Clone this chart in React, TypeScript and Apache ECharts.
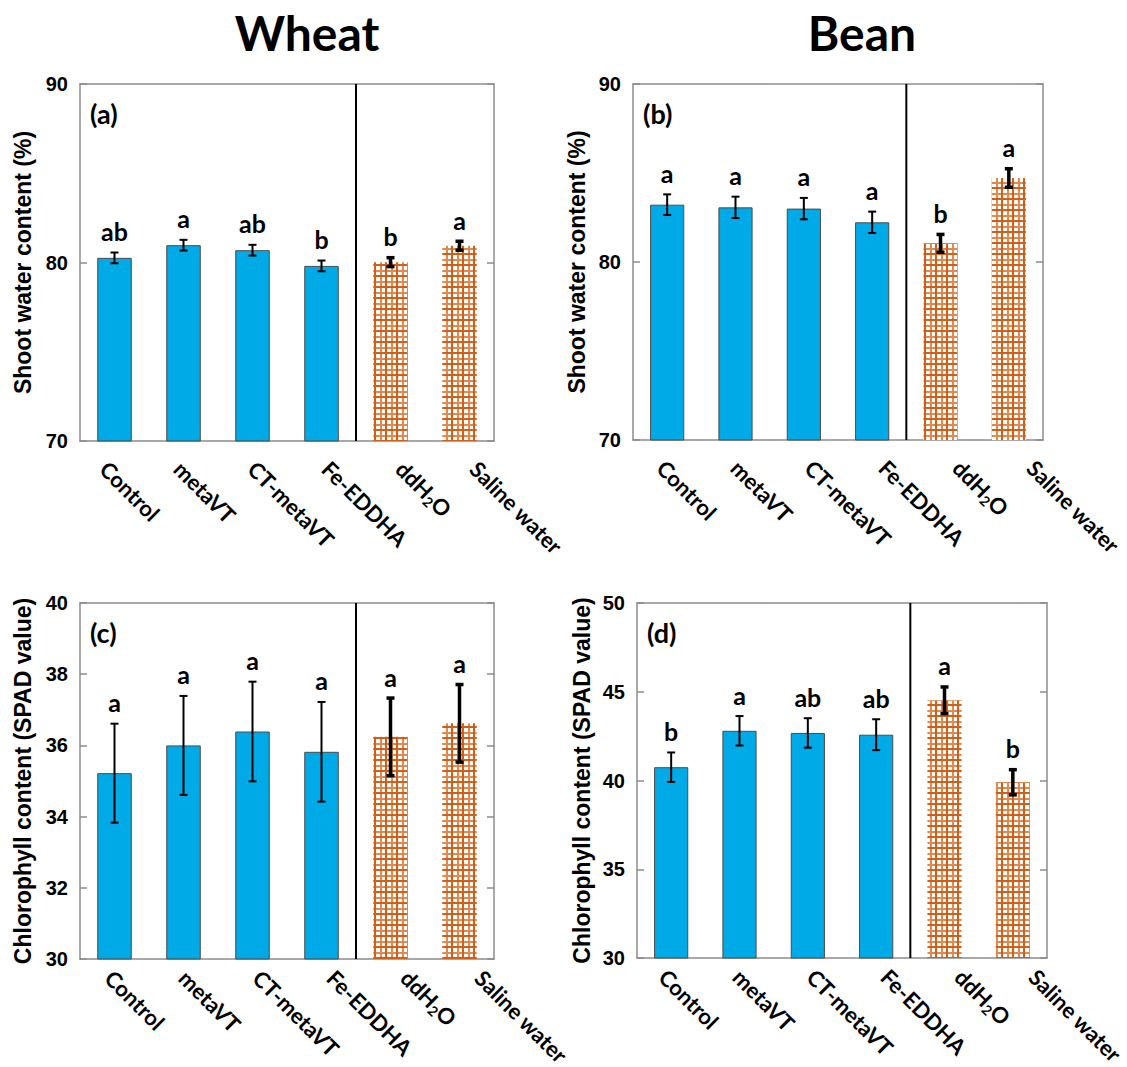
import React, { useEffect, useRef } from "react";
import * as echarts from "echarts";

const categories = ["Control", "metaVT", "CT-metaVT", "Fe-EDDHA", "ddH2O", "Saline water"];

const wheatWater = [80.26, 80.97, 80.69, 79.81, 80.02, 80.94];
const wheatWaterErr = [0.3, 0.3, 0.3, 0.3, 0.25, 0.25];
const wheatWaterLetters = ["ab", "a", "ab", "b", "b", "a"];

const beanWater = [83.22, 83.07, 83.0, 82.23, 81.05, 84.72];
const beanWaterErr = [0.58, 0.6, 0.6, 0.6, 0.5, 0.52];
const beanWaterLetters = ["a", "a", "a", "a", "b", "a"];

const wheatChl = [35.22, 36.0, 36.39, 35.82, 36.24, 36.62];
const wheatChlErr = [1.39, 1.39, 1.4, 1.4, 1.09, 1.09];
const wheatChlLetters = ["a", "a", "a", "a", "a", "a"];

const beanChl = [40.75, 42.8, 42.68, 42.58, 44.52, 39.9];
const beanChlErr = [0.83, 0.83, 0.83, 0.87, 0.75, 0.71];
const beanChlLetters = ["b", "a", "ab", "ab", "a", "b"];

const waterAxis = { min: 70, max: 90, interval: 10 };
const wheatChlAxis = { min: 30, max: 40, interval: 2 };
const beanChlAxis = { min: 30, max: 50, interval: 5 };

const waterTitle = "Shoot water content (%)";
const chlTitle = "Chlorophyll content (SPAD value)";
const columnTitles = ["Wheat", "Bean"];
const panelTags = ["(a)", "(b)", "(c)", "(d)"];

const CAL = "Lato, 'Open Sans', sans-serif";
const ARI = "'Liberation Sans', Arial, sans-serif";
const BLUE = "#00AAE6";
const FRAME = "#8c8c8c";

function makePattern() {
  const c = document.createElement("canvas");
  c.width = 11;
  c.height = 11;
  const ctx = c.getContext("2d")!;
  ctx.fillStyle = "#ffffff";
  ctx.fillRect(0, 0, 11, 11);
  ctx.fillStyle = "#E08A50";
  ctx.fillRect(6, 0, 2, 11);
  ctx.fillRect(0, 6, 11, 2);
  ctx.fillStyle = "#D35E18";
  ctx.fillRect(0, 0, 2, 11);
  ctx.fillRect(0, 0, 11, 2);
  return c;
}

export default function App() {
  const ref = useRef<HTMLDivElement>(null);
  useEffect(() => {
    document.body.style.margin = "0";
    const chart = echarts.init(ref.current!, undefined, { renderer: "svg" });
    const pattern = makePattern();

    const panels = [
      { grid: { left: 80, top: 84, width: 414, height: 357 }, labelLeft: 67, labelMargin: 24, vals: wheatWater, err: wheatWaterErr, letters: wheatWaterLetters, ax: waterAxis, name: waterTitle, gap: 46 },
      { grid: { left: 633, top: 84, width: 410, height: 356 }, labelLeft: 624, labelMargin: 24, vals: beanWater, err: beanWaterErr, letters: beanWaterLetters, ax: waterAxis, name: waterTitle, gap: 45 },
      { grid: { left: 80, top: 603, width: 414, height: 356 }, labelLeft: 72, labelMargin: 15, vals: wheatChl, err: wheatChlErr, letters: wheatChlLetters, ax: wheatChlAxis, name: chlTitle, gap: 46 },
      { grid: { left: 637, top: 603, width: 410, height: 355 }, labelLeft: 626, labelMargin: 15, vals: beanChl, err: beanChlErr, letters: beanChlLetters, ax: beanChlAxis, name: chlTitle, gap: 44 },
    ];

    const grids: any[] = [];
    const xAxis: any[] = [];
    const yAxis: any[] = [];
    const series: any[] = [];
    panels.forEach((p) => {
      grids.push({ ...p.grid, containLabel: false, outerBoundsMode: "none" });
    });
    panels.forEach((p) => {
      grids.push({ left: p.labelLeft, top: p.grid.top, width: 444, height: p.grid.height, containLabel: false, outerBoundsMode: "none" });
    });

    panels.forEach((p, g) => {
      const lineStyle = { color: FRAME, width: 1.5 };
      xAxis.push({
        gridIndex: g,
        type: "category",
        data: categories,
        position: "bottom",
        axisLine: { lineStyle },
        axisTick: { inside: true, length: 6, lineStyle },
        axisLabel: { show: false },
      });
      xAxis.push({
        gridIndex: g,
        type: "category",
        data: categories,
        position: "top",
        axisLine: { lineStyle },
        axisTick: { inside: true, length: 6, lineStyle },
        axisLabel: { show: false },
      });
      yAxis.push({
        gridIndex: g,
        type: "value",
        position: "left",
        min: p.ax.min,
        max: p.ax.max,
        interval: p.ax.interval,
        splitLine: { show: false },
        axisLine: { show: true, lineStyle },
        axisTick: { show: true, inside: true, length: 7, lineStyle },
        axisLabel: { color: "#000", fontFamily: ARI, fontWeight: "bold", fontSize: 20, margin: 12 },
        name: p.name,
        nameLocation: "middle",
        nameGap: p.gap,
        nameTextStyle: { color: "#000", fontFamily: ARI, fontWeight: "bold", fontSize: 23 },
      });
      yAxis.push({
        gridIndex: g,
        type: "value",
        position: "right",
        min: p.ax.min,
        max: p.ax.max,
        interval: p.ax.interval,
        splitLine: { show: false },
        axisLine: { show: true, lineStyle },
        axisTick: { show: true, inside: true, length: 7, lineStyle },
        axisLabel: { show: false },
      });
      series.push({
        type: "bar",
        xAxisIndex: 2 * g,
        yAxisIndex: 2 * g,
        barWidth: "50%",
        z: 2,
        itemStyle: { color: BLUE, borderColor: "#4a4a4a", borderWidth: 1 },
        data: p.vals.map((v, i) =>
          i < 4 ? { value: v } : { value: v, itemStyle: { color: { image: pattern, repeat: "repeat" }, borderWidth: 0 } }
        ),
      });
      const letters = p.letters;
      series.push({
        type: "custom",
        xAxisIndex: 2 * g,
        yAxisIndex: 2 * g,
        clip: false,
        z: 5,
        data: p.vals.map((v, i) => [i, v + p.err[i], v - p.err[i], i >= 4 ? 1 : 0]),
        renderItem: (params: any, api: any) => {
          const x = api.value(0);
          const hi = api.coord([x, api.value(1)]);
          const lo = api.coord([x, api.value(2)]);
          const thick = api.value(3) ? 3.5 : 2;
          const cw = 4;
          const st = { stroke: "#000", lineWidth: thick };
          return {
            type: "group",
            children: [
              { type: "line", shape: { x1: hi[0], y1: hi[1], x2: lo[0], y2: lo[1] }, style: st, z2: 10 },
              { type: "line", shape: { x1: hi[0] - cw, y1: hi[1], x2: hi[0] + cw, y2: hi[1] }, style: st, z2: 10 },
              { type: "line", shape: { x1: lo[0] - cw, y1: lo[1], x2: lo[0] + cw, y2: lo[1] }, style: st, z2: 10 },
              {
                type: "text",
                x: hi[0],
                y: hi[1] - 9,
                style: {
                  text: letters[params.dataIndex],
                  fill: "#000",
                  fontFamily: CAL,
                  fontWeight: "bold",
                  fontSize: 25,
                  align: "center",
                  verticalAlign: "bottom",
                },
              },
            ],
          };
        },
      });
    });

    // label-only axes (the reference spaces its rotated labels slightly wider than the bars)
    panels.forEach((p, g) => {
      xAxis.push({
        gridIndex: 4 + g,
        type: "category",
        data: categories,
        position: "bottom",
        axisLine: { show: false },
        axisTick: { show: false },
        axisLabel: {
          rotate: -45,
          margin: p.labelMargin,
          interval: 0,
          color: "#000",
          fontFamily: CAL,
          fontWeight: "bold",
          fontSize: 22,
          formatter: (v: string) => (v === "ddH2O" ? "ddH{sub|2}O" : v),
          rich: {
            sub: { fontSize: 14, fontFamily: CAL, fontWeight: "bold", color: "#000", padding: [12, 0, 0, 0] },
          },
        },
      });
      yAxis.push({
        gridIndex: 4 + g,
        type: "value",
        show: false,
        min: 0,
        max: 1,
      });
    });

    chart.setOption({
      animation: false,
      grid: grids,
      xAxis,
      yAxis,
      series,
    });

    const graphic: any[] = [];
    graphic.push({
      type: "text",
      x: 307,
      y: 32,
      style: { text: columnTitles[0], fill: "#000", fontFamily: CAL, fontWeight: "bold", fontSize: 48, align: "center", verticalAlign: "middle" },
    });
    graphic.push({
      type: "text",
      x: 862,
      y: 32,
      style: { text: columnTitles[1], fill: "#000", fontFamily: CAL, fontWeight: "bold", fontSize: 48, align: "center", verticalAlign: "middle" },
    });
    panels.forEach((p, g) => {
      graphic.push({
        type: "text",
        x: p.grid.left + 10,
        y: p.grid.top + 29,
        style: { text: panelTags[g], fill: "#000", fontFamily: CAL, fontWeight: "bold", fontSize: 27, align: "left", verticalAlign: "middle" },
      });
      const xa = chart.convertToPixel({ xAxisIndex: 2 * g }, categories[3]) as number;
      const xb = chart.convertToPixel({ xAxisIndex: 2 * g }, categories[4]) as number;
      const yt = chart.convertToPixel({ yAxisIndex: 2 * g }, p.ax.max) as number;
      const yb = chart.convertToPixel({ yAxisIndex: 2 * g }, p.ax.min) as number;
      const xm = (xa + xb) / 2;
      graphic.push({
        type: "line",
        shape: { x1: xm, y1: yt, x2: xm, y2: yb },
        style: { stroke: "#000", lineWidth: 2 },
        z: 10,
      });
    });
    chart.setOption({ graphic });

    return () => chart.dispose();
  }, []);
  return <div ref={ref} style={{ width: 1127, height: 1067 }} />;
}
